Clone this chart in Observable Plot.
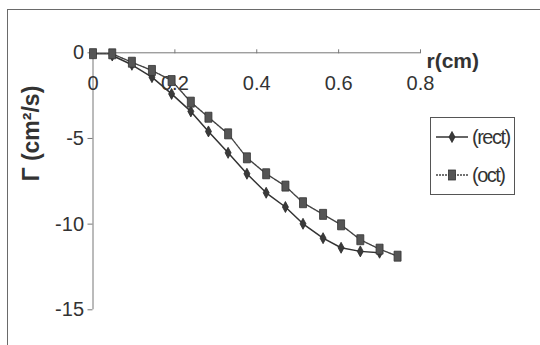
<!DOCTYPE html>
<html>
<head>
<meta charset="utf-8">
<script src="https://cdn.jsdelivr.net/npm/d3@7"></script>
<script src="https://cdn.jsdelivr.net/npm/@observablehq/plot@0.6"></script>
<style>
  html, body { margin: 0; padding: 0; background: #fff; }
  #wrap { position: relative; width: 540px; height: 345px; overflow: hidden; font-family: "Liberation Sans", Arial, sans-serif; }
  #border { position: absolute; left: 7px; top: 9px; width: 540px; height: 345px; border: 1px solid #6a6a6a; box-sizing: border-box; }
  #legend { position: absolute; left: 430px; top: 117px; width: 85px; height: 78px; border: 1px solid #555; box-sizing: border-box; background: #fff; }
  .item { position: absolute; left: 4px; height: 22px; display: flex; align-items: center; font-size: 20px; letter-spacing: -1.5px; color: #333; }
  .item svg { margin-right: 3px; }
</style>
</head>
<body>
<div id="wrap">
  <div id="border"></div>
  <div id="chart"></div>
  <div id="legend"></div>
</div>
<script>
// r (cm)
const rValues = [0, 0.047, 0.095, 0.144, 0.192, 0.239, 0.282, 0.33, 0.376, 0.423, 0.47, 0.513, 0.562, 0.606, 0.653, 0.70, 0.744];
// Γ (cm²/s) — "(rect)" series
const rectValues = [null, -0.16, -0.7, -1.42, -2.4, -3.42, -4.59, -5.84, -7.06, -8.17, -9.0, -9.98, -10.82, -11.38, -11.59, -11.67, null];
// Γ (cm²/s) — "(oct)" series
const octValues = [-0.05, -0.06, -0.55, -1.03, -1.62, -2.88, -3.76, -4.73, -6.13, -7.06, -7.78, -8.75, -9.43, -10.04, -10.91, -11.46, -11.87];
const seriesNames = ["(rect)", "(oct)"];
const xTicks = [0, 0.2, 0.4, 0.6, 0.8];
const xTickLabels = ["0", "0.2", "0.4", "0.6", "0.8"];
const yTicks = [0, -5, -10, -15];
const yTickLabels = ["0", "-5", "-10", "-15"];
const xLabel = "r(cm)";
const yLabel = "Γ (cm²/s)";

const rectData = rValues.map((r, i) => ({r, g: rectValues[i]})).filter(d => d.g != null);
const octData = rValues.map((r, i) => ({r, g: octValues[i]})).filter(d => d.g != null);

const tallDiamond = {draw(ctx) { ctx.moveTo(0, -5.5); ctx.lineTo(3, 0); ctx.lineTo(0, 5.5); ctx.lineTo(-3, 0); ctx.closePath(); }};
const tallSquare = {draw(ctx) { ctx.rect(-3.5, -5, 7, 10); }};

const font = '"Liberation Sans", Arial, sans-serif';

const chart = Plot.plot({
  width: 540,
  height: 345,
  marginLeft: 92.5,
  marginRight: 120,
  marginTop: 52.3,
  marginBottom: 35.7,
  style: {fontFamily: font, background: "transparent", color: "#333"},
  x: {domain: [0, 0.8]},
  y: {domain: [-15, 0]},
  marks: [
    Plot.ruleX([0], {stroke: "#777", strokeWidth: 1}),
    Plot.ruleY([0], {stroke: "#777", strokeWidth: 1}),
    Plot.axisY({ticks: yTicks, tickSize: 5, tickPadding: 4, fontSize: 20, label: null, stroke: "#777", fill: "#333",
      tickFormat: d => yTickLabels[yTicks.indexOf(d)], style: {letterSpacing: "-1px"}}),
    Plot.axisX({anchor: "top", ticks: xTicks.slice(1), tickSize: 4, tickFormat: () => "", label: null, stroke: "#777"}),
    Plot.text(xTicks, {x: d => d, y: 0, dy: 31, text: (d, i) => xTickLabels[i], fontSize: 20, fill: "#333", style: {letterSpacing: "-1.5px"}}),
    Plot.text([xLabel], {frameAnchor: "top-right", dx: 6, textAnchor: "start", fontSize: 21, fontWeight: 600, fill: "#333", style: {letterSpacing: "-1.5px"}}),
    Plot.text([yLabel], {frameAnchor: "left", dx: -61, rotate: -90, fontSize: 23, fontWeight: "bold", fill: "#333"}),
    Plot.line(octData, {x: "r", y: "g", stroke: "#444", strokeWidth: 1.4, strokeDasharray: "2.5,1"}),
    Plot.line(rectData, {x: "r", y: "g", stroke: "#333", strokeWidth: 1.5}),
    Plot.dot(rectData, {x: "r", y: "g", symbol: tallDiamond, r: 3, fill: "#3a3a3a", stroke: "#2a2a2a", strokeWidth: 0.8}),
    Plot.dot(octData, {x: "r", y: "g", symbol: tallSquare, r: 3, fill: "#555", stroke: "#333", strokeWidth: 0.8})
  ]
});
document.getElementById("chart").appendChild(chart);

// legend
const legend = document.getElementById("legend");
const markers = [
  `<svg width="34" height="14"><line x1="1" y1="7" x2="33" y2="7" stroke="#333" stroke-width="1.5"/><path d="M17,1.5 L20,7 L17,12.5 L14,7 Z" fill="#3a3a3a" stroke="#2a2a2a" stroke-width="0.8"/></svg>`,
  `<svg width="34" height="14"><line x1="1" y1="7" x2="33" y2="7" stroke="#444" stroke-width="1.4" stroke-dasharray="2,1"/><rect x="13.5" y="2" width="7" height="10" fill="#555" stroke="#333" stroke-width="0.8"/></svg>`
];
seriesNames.forEach((name, i) => {
  const div = document.createElement("div");
  div.className = "item";
  div.style.top = (i === 0 ? 8 : 46) + "px";
  div.innerHTML = markers[i] + `<span>${name}</span>`;
  legend.appendChild(div);
});
</script>
</body>
</html>
